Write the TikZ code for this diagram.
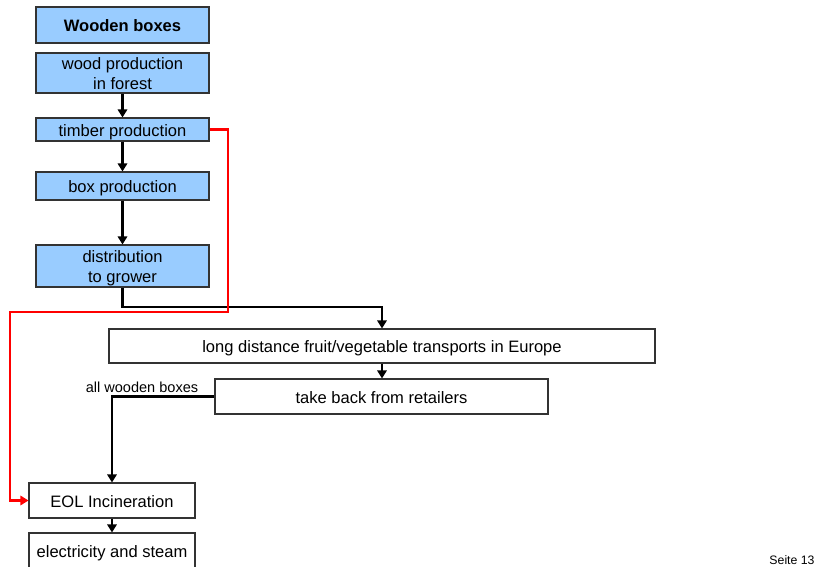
\documentclass[tikz,border=0pt]{standalone}
\usepackage{fontspec}
\setmainfont{Liberation Sans}
\usetikzlibrary{arrows.meta}
\definecolor{boxblue}{HTML}{99CCFF}
\definecolor{edgegray}{HTML}{333333}
\newcommand{\boxtxt}[1]{\raisebox{-2.2pt}[\height][\depth]{\begin{tabular}{@{}c@{}}#1\end{tabular}}}
\begin{document}
\begin{tikzpicture}[x=0.75pt,y=-0.75pt,
  basebox/.style={draw=edgegray,line width=0.8pt,rectangle,inner sep=0pt,align=center,
    font=\fontsize{12.4pt}{15pt}\selectfont},
  bluebox/.style={basebox,fill=boxblue,minimum width=129.75pt},
  whitebox/.style={basebox,fill=white},
  arr/.style={line width=2.2pt,-{Triangle[length=6pt,width=7pt]}},
  redarr/.style={line width=2.2pt,red,-{Triangle[length=6pt,width=7pt]}}]
\useasboundingbox (0,0) rectangle (819,567);
\fill[white] (0,0) rectangle (819,567);
\node[bluebox,minimum height=27pt,font=\fontsize{12.4pt}{15pt}\selectfont\bfseries] (wb) at (122.5,25) {\boxtxt{Wooden boxes}};
\node[bluebox,minimum height=28.5pt] (wood) at (122.5,73) {\boxtxt{wood production\\in forest}};
\node[bluebox,minimum height=17.25pt] (timber) at (122.5,129.5) {\boxtxt{timber production}};
\node[bluebox,minimum height=21pt] (box) at (122.5,186) {\boxtxt{box production}};
\node[bluebox,minimum height=31.5pt] (dist) at (122.5,266) {\boxtxt{distribution\\to grower}};
\node[whitebox,minimum width=409.5pt,minimum height=25.5pt] (long) at (382,346) {\boxtxt{long distance fruit/vegetable transports in Europe}};
\node[whitebox,minimum width=249.75pt,minimum height=26.25pt] (take) at (381.5,396.5) {\boxtxt{take back from retailers}};
\node[whitebox,minimum width=124.5pt,minimum height=26.25pt] (eol) at (112,500.5) {\boxtxt{EOL Incineration}};
\node[whitebox,minimum width=124.5pt,minimum height=27pt] (elec) at (112,551) {\boxtxt{electricity and steam}};
\node[font=\fontsize{10.9pt}{12pt}\selectfont,inner sep=0pt] (lab) at (142,387) {all wooden boxes};
\node[font=\fontsize{9.2pt}{10pt}\selectfont,inner sep=0pt] (seite) at (792,560) {Seite 13};
\coordinate (j1) at (382,307);
\coordinate (r1) at (228,312);
\coordinate (r2) at (10,312);
\draw[arr] (wood.south) -- (timber.north);
\draw[arr] (timber.south) -- (box.north);
\draw[arr] (box.south) -- (dist.north);
\draw[arr] (dist.south) |- (j1) -- (long.north);
\draw[arr] (long.south) -- (take.north -| long.south);
\draw[arr] (take.west) -| (eol.north);
\draw[arr] (eol.south) -- (elec.north);
\draw[redarr] (timber.east) -| (r1) -- (r2) |- (eol.west);
\end{tikzpicture}
\end{document}
